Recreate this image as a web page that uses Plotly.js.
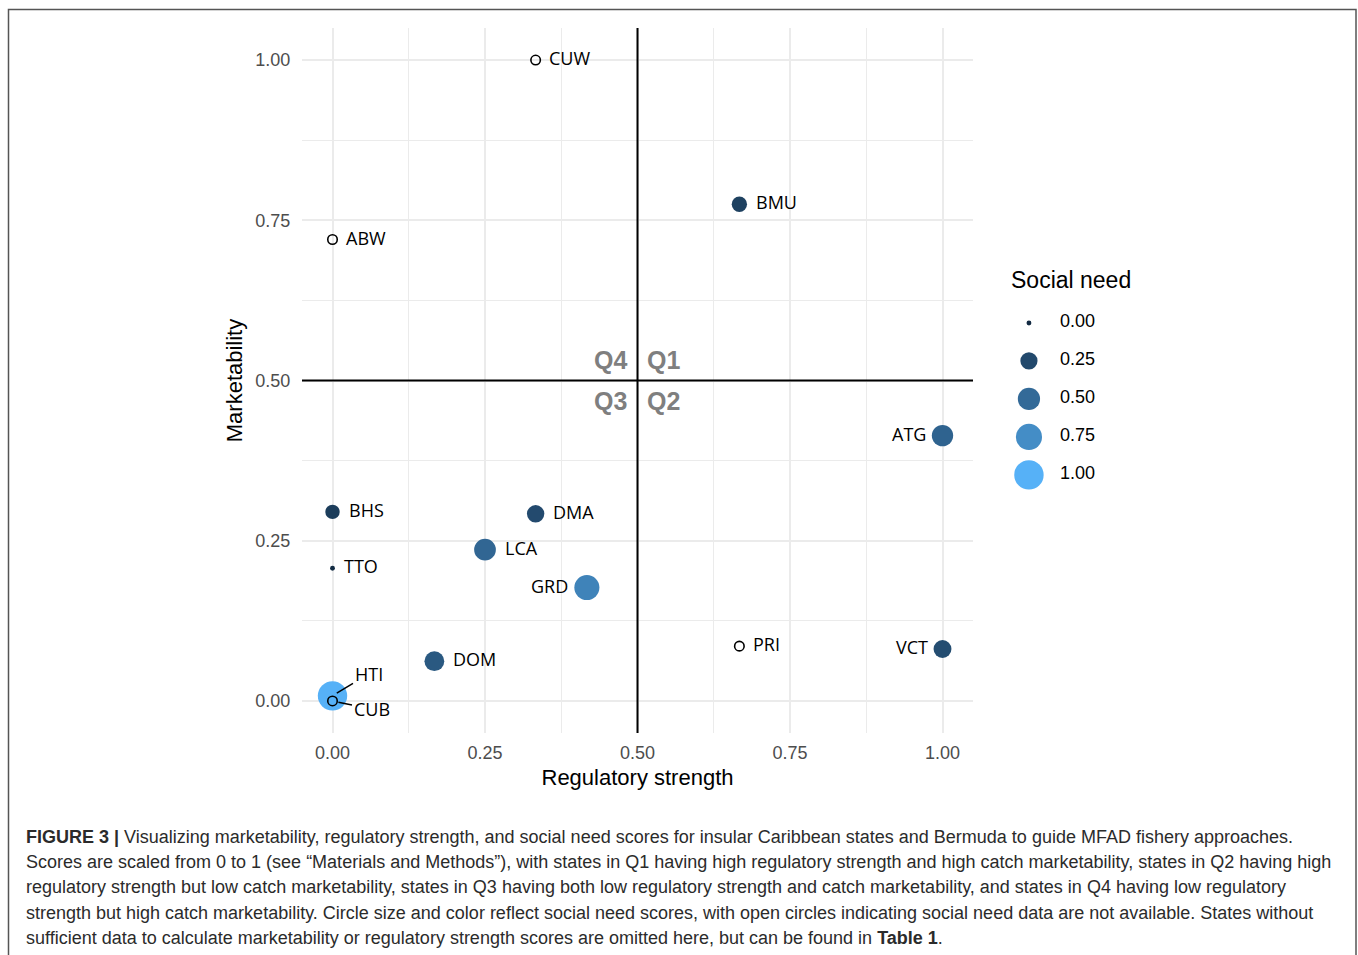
<!DOCTYPE html>
<html>
<head>
<meta charset="utf-8">
<script src="https://cdn.plot.ly/plotly-3.0.1.min.js"></script>
<style>
html,body{margin:0;padding:0;background:#fff;}
#chart{width:1358px;height:955px;}
</style>
</head>
<body>
<div id="chart"></div>
<script>
// ---- data ----
const codes = ['CUW','BMU','ABW','ATG','BHS','DMA','LCA','TTO','GRD','PRI','VCT','DOM','HTI','CUB'];
const regulatoryStrength = [0.333,0.667,0,1,0,0.333,0.25,0,0.417,0.667,1,0.167,0,0];
const marketability = [1.0,0.775,0.72,0.414,0.295,0.292,0.236,0.207,0.177,0.0855,0.081,0.062,0.008,0];
const socialNeed = [null,0.18,null,0.45,0.15,0.26,0.47,0,0.68,null,0.28,0.37,1.0,null];
const legendValues = [0, 0.25, 0.5, 0.75, 1];
const legendLabels = ['0.00','0.25','0.50','0.75','1.00'];
const axisTicks = [0, 0.25, 0.5, 0.75, 1];
const axisTickLabels = ['0.00','0.25','0.50','0.75','1.00'];

// ---- style ----
const labelSide = {CUW:'right',BMU:'right',ABW:'right',ATG:'left',BHS:'right',DMA:'right',LCA:'right',TTO:'right',GRD:'left',PRI:'right',VCT:'left',DOM:'right',HTI:'none',CUB:'none'};
const LOW = '#132B43', HIGH = '#56B1F7';
const sizeOf = s => 4.9*(1+5*Math.sqrt(s));   // area-like size scale
const OPEN_SIZE = 9.5;
const W = 1358, H = 955, ML = 302, MR = 20, MT = 28, MB = 222;
const PW = W-ML-MR, PH = H-MT-MB;
const px = x => (x-ML)/PW;
const py = y => (MT+PH-y)/PH;

// Lab interpolation for a gradient colour scale
function hex2rgb(h){return [1,3,5].map(k=>parseInt(h.substr(k,2),16)/255);}
const lin = c => c<=0.04045 ? c/12.92 : Math.pow((c+0.055)/1.055,2.4);
const delin = c => c<=0.0031308 ? 12.92*c : 1.055*Math.pow(c,1/2.4)-0.055;
const fl = t => t>0.008856 ? Math.cbrt(t) : 7.787*t+16/116;
const fli = t => t>0.206893 ? t*t*t : (t-16/116)/7.787;
function rgb2lab(rgb){
  const [r,g,b]=rgb.map(lin);
  const X=(0.4124*r+0.3576*g+0.1805*b)/0.95047, Y=0.2126*r+0.7152*g+0.0722*b, Z=(0.0193*r+0.1192*g+0.9505*b)/1.08883;
  return [116*fl(Y)-16, 500*(fl(X)-fl(Y)), 200*(fl(Y)-fl(Z))];
}
function lab2hex(lab){
  const fy=(lab[0]+16)/116, fx=fy+lab[1]/500, fz=fy-lab[2]/200;
  const X=fli(fx)*0.95047, Y=fli(fy), Z=fli(fz)*1.08883;
  const r= 3.2406*X-1.5372*Y-0.4986*Z, g=-0.9689*X+1.8758*Y+0.0415*Z, b=0.0557*X-0.2040*Y+1.0570*Z;
  return '#'+[r,g,b].map(v=>{const c=Math.round(Math.min(1,Math.max(0,delin(v)))*255);return c.toString(16).padStart(2,'0');}).join('');
}
const labLo=rgb2lab(hex2rgb(LOW)), labHi=rgb2lab(hex2rgb(HIGH));
const colorscale=[]; for(let k=0;k<=20;k++){const t=k/20; colorscale.push([t, lab2hex(labLo.map((v,j)=>v+(labHi[j]-v)*t))]);}

const filled = [], open = [];
codes.forEach((c,i)=>{ (socialNeed[i]===null?open:filled).push(i); });

const labelFont = {family:'Open Sans, sans-serif', size:18, color:'#000'};
const baseFont = 'Liberation Sans, Arial, sans-serif';

const traces = [
  {
    type:'scatter', mode:'markers', xaxis:'x', yaxis:'y',
    x: filled.map(i=>regulatoryStrength[i]), y: filled.map(i=>marketability[i]), text: filled.map(i=>codes[i]),
    marker:{size: filled.map(i=>sizeOf(socialNeed[i])), color: filled.map(i=>socialNeed[i]),
            colorscale: colorscale, cmin:0, cmax:1, line:{width:0}, opacity:1},
    cliponaxis:false, hoverinfo:'text', showlegend:false
  },
  {
    type:'scatter', mode:'markers', xaxis:'x', yaxis:'y',
    x: open.map(i=>regulatoryStrength[i]), y: open.map(i=>marketability[i]), text: open.map(i=>codes[i]),
    marker:{symbol:'circle-open', size:OPEN_SIZE, color:'#000', line:{width:1.6, color:'#000'}, opacity:1},
    cliponaxis:false, hoverinfo:'text', showlegend:false
  },
  {
    type:'scatter', mode:'markers', xaxis:'x2', yaxis:'y2',
    x: legendValues.map(()=>0.193), y: legendValues,
    marker:{size: legendValues.map(sizeOf), color: legendValues, colorscale: colorscale, cmin:0, cmax:1, line:{width:0}, opacity:1},
    cliponaxis:false, hoverinfo:'skip', showlegend:false
  },
  {
    type:'scatter', mode:'text', xaxis:'x2', yaxis:'y2',
    x: legendValues.map(()=>0.40), y: legendValues, text: legendLabels, textposition:'middle right',
    textfont:{family:baseFont, size:18, color:'#000'},
    cliponaxis:false, hoverinfo:'skip', showlegend:false
  }
];

const grid = '#ebebeb';
const commonAxis = {
  range:[-0.05,1.05], tickvals:axisTicks, ticktext:axisTickLabels,
  showgrid:true, gridcolor:grid, gridwidth:2, zeroline:false, showline:false,
  ticks:'outside', ticklen:3, tickcolor:'rgba(0,0,0,0)',
  tickfont:{family:baseFont, size:18, color:'#4d4d4d'},
  minor:{tickvals:[0.125,0.375,0.625,0.875], showgrid:true, gridcolor:grid, gridwidth:1, ticks:''},
  fixedrange:true
};

const qFont = {family:baseFont, size:25, color:'#7f7f7f'};
const captionLines = [
  '<b>FIGURE 3 |</b> Visualizing marketability, regulatory strength, and social need scores for insular Caribbean states and Bermuda to guide MFAD fishery approaches.',
  'Scores are scaled from 0 to 1 (see “Materials and Methods”), with states in Q1 having high regulatory strength and high catch marketability, states in Q2 having high',
  'regulatory strength but low catch marketability, states in Q3 having both low regulatory strength and catch marketability, and states in Q4 having low regulatory',
  'strength but high catch marketability. Circle size and color reflect social need scores, with open circles indicating social need data are not available. States without',
  'sufficient data to calculate marketability or regulatory strength scores are omitted here, but can be found in <b>Table 1</b>.'
];
const captionY = [837, 862, 887, 913, 938];

const annotations = [
  {xref:'x', yref:'y', x:0.5, y:0.5, text:'<b>Q4</b>', showarrow:false, xanchor:'right', yanchor:'middle', xshift:-9, yshift:21, font:qFont},
  {xref:'x', yref:'y', x:0.5, y:0.5, text:'<b>Q1</b>', showarrow:false, xanchor:'left', yanchor:'middle', xshift:7, yshift:21, font:qFont},
  {xref:'x', yref:'y', x:0.5, y:0.5, text:'<b>Q3</b>', showarrow:false, xanchor:'right', yanchor:'middle', xshift:-9, yshift:-20, font:qFont},
  {xref:'x', yref:'y', x:0.5, y:0.5, text:'<b>Q2</b>', showarrow:false, xanchor:'left', yanchor:'middle', xshift:7, yshift:-20, font:qFont},
  {xref:'paper', yref:'paper', x:px(1009), y:py(280), text:'Social need', showarrow:false, xanchor:'left', yanchor:'middle', font:{family:baseFont, size:23, color:'#000'}}
];
// point labels
codes.forEach((c,i)=>{
  const side = labelSide[c];
  if(side==='none') return;
  const d = socialNeed[i]===null ? OPEN_SIZE : sizeOf(socialNeed[i]);
  const off = side==='left' ? d/2 + 4 : d/2 + 7;
  annotations.push({xref:'x', yref:'y', x:regulatoryStrength[i], y:marketability[i], text:c, showarrow:false,
    xanchor: side==='left'?'right':'left', yanchor:'middle', xshift: side==='left'?-off:off, yshift:2, font:labelFont});
});
// repelled labels with leader lines
const i1 = codes.indexOf('HTI'), i2 = codes.indexOf('CUB');
annotations.push({xref:'x', yref:'y', x:regulatoryStrength[i1], y:marketability[i1], text:'HTI', showarrow:true, arrowhead:0, arrowwidth:1.5, arrowcolor:'#000', ax:36, ay:-22, standoff:5, font:labelFont});
annotations.push({xref:'x', yref:'y', x:regulatoryStrength[i2], y:marketability[i2], text:'CUB', showarrow:true, arrowhead:0, arrowwidth:1.5, arrowcolor:'#000', ax:39, ay:8, standoff:6, font:labelFont});
// caption
captionLines.forEach((t,k)=>annotations.push({xref:'paper', yref:'paper', x:px(24), y:py(captionY[k]), text:t, showarrow:false, xanchor:'left', yanchor:'middle', align:'left', font:{family:baseFont, size:18, color:'#2b2b2b'}}));

const layout = {
  width:W, height:H, margin:{l:ML, r:MR, t:MT, b:MB, autoexpand:false},
  paper_bgcolor:'#fff', plot_bgcolor:'rgba(0,0,0,0)', showlegend:false,
  xaxis: Object.assign({}, commonAxis, {domain:[0, px(973)], anchor:'y',
    title:{text:'Regulatory strength', standoff:8, font:{family:baseFont, size:22, color:'#000'}}}),
  yaxis: Object.assign({}, commonAxis, {domain:[0,1], anchor:'x', ticklen:7,
    title:{text:'Marketability', standoff:6, font:{family:baseFont, size:22, color:'#000'}}}),
  xaxis2:{domain:[px(1000), px(1150)], range:[0,1], anchor:'y2', visible:false, fixedrange:true},
  yaxis2:{domain:[py(500), py(300)], range:[1.165,-0.151], anchor:'x2', visible:false, fixedrange:true},
  shapes:[
    {type:'line', xref:'x', yref:'paper', x0:0.5, x1:0.5, y0:0, y1:1, line:{color:'#000', width:2}},
    {type:'line', xref:'x domain', yref:'y', x0:0, x1:1, y0:0.5, y1:0.5, line:{color:'#000', width:2}},
    {type:'rect', xref:'paper', yref:'paper', x0:px(8.5), x1:px(1356), y0:py(9.5), y1:py(975), line:{color:'#555', width:1.5}, fillcolor:'rgba(0,0,0,0)', layer:'below'}
  ],
  annotations: annotations,
  font:{family:baseFont}
};

Plotly.newPlot('chart', traces, layout, {displayModeBar:false, staticPlot:true});
</script>
</body>
</html>
